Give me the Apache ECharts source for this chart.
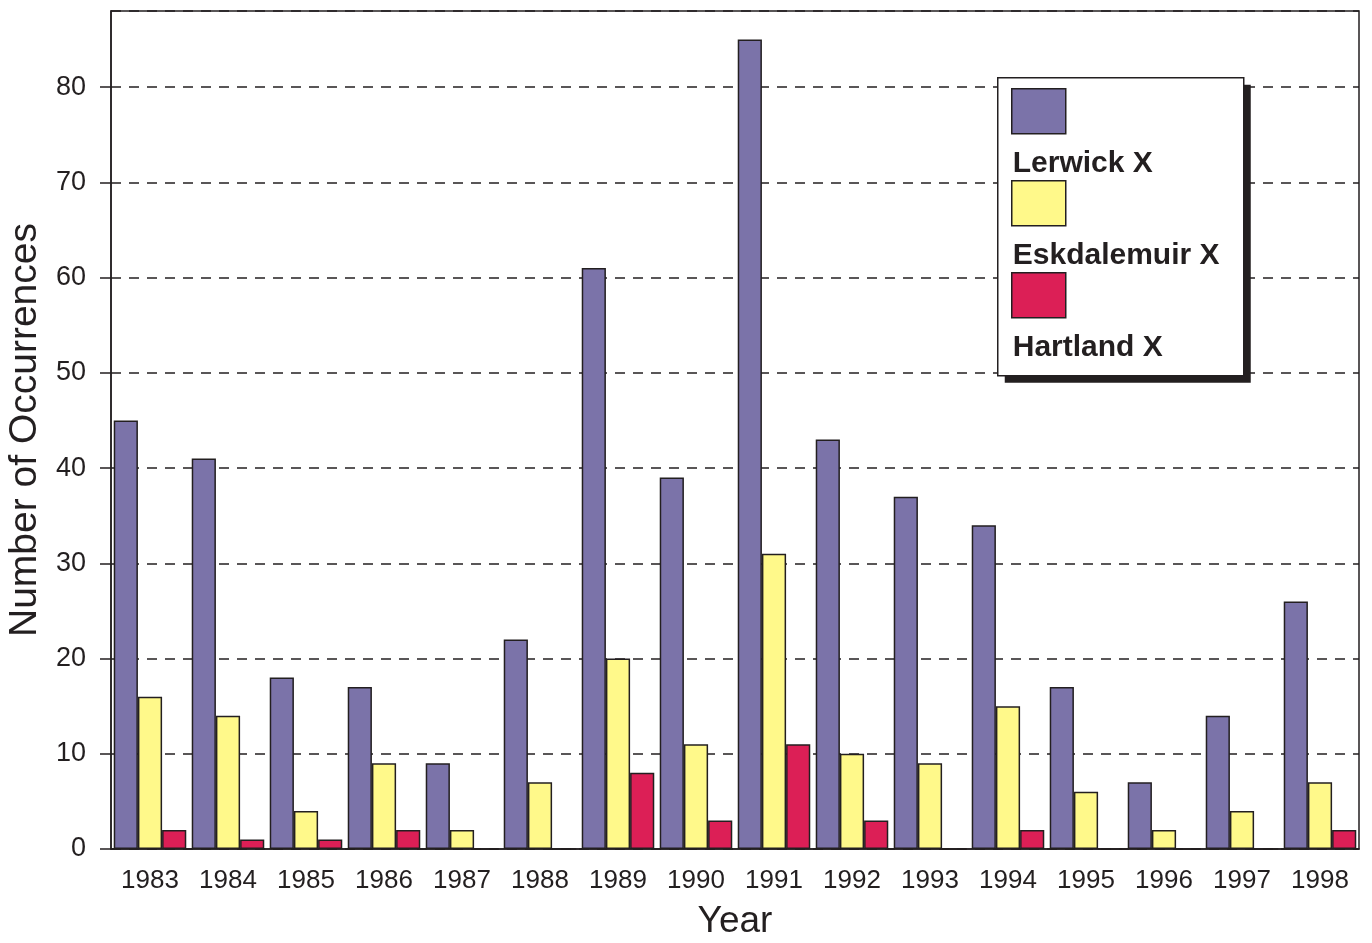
<!DOCTYPE html>
<html>
<head>
<meta charset="utf-8">
<script src="https://cdn.jsdelivr.net/npm/echarts@6/dist/echarts.min.js"></script>
<style>
  html, body { margin: 0; padding: 0; background: #fff; }
  #chart { width: 1372px; height: 943px; }
</style>
</head>
<body>
<div id="chart"></div>
<script>
const years = ['1983', '1984', '1985', '1986', '1987', '1988', '1989', '1990',
  '1991', '1992', '1993', '1994', '1995', '1996', '1997', '1998']
const lerwick = [45, 41, 18, 17, 9, 22, 61, 39, 85, 43, 37, 34, 17, 7, 14, 26]
const eskdalemuir = [16, 14, 4, 9, 2, 7, 20, 11, 31, 10, 9, 15, 6, 2, 4, 7]
const hartland = [2, 1, 1, 2, 0, 0, 8, 3, 11, 3, 0, 2, 0, 0, 0, 2]
const seriesNames = ['Lerwick X', 'Eskdalemuir X', 'Hartland X']
const colors = ['#7b73a9', '#fff98a', '#dc1f56']

const font = '"Liberation Sans", Arial, sans-serif'
const chart = echarts.init(document.getElementById('chart'))

const allData = [lerwick, eskdalemuir, hartland]
const series = allData.map((d, i) => ({
  name: seriesNames[i],
  type: 'bar',
  data: d,
  barGap: '0%',
  barCategoryGap: '7%',
  itemStyle: { color: colors[i], borderColor: '#231f20', borderWidth: 1.5 },
  emphasis: { disabled: true }
}))

// legend drawn as graphic: swatch with the label under it
const legendItems = []
seriesNames.forEach((name, i) => {
  legendItems.push({
    type: 'rect', z: 102, shape: { x: 14, y: 11 + i * 92, width: 54, height: 45 },
    style: { fill: colors[i], stroke: '#231f20', lineWidth: 1.5 }
  })
  legendItems.push({
    type: 'text', z: 102, x: 15, y: 86 + i * 92,
    style: { text: name, font: 'bold 30px ' + font, fill: '#231f20', verticalAlign: 'middle' }
  })
})

chart.setOption({
  animation: false,
  grid: {
    left: 111, right: 13, top: 11, bottom: 94,
    outerBoundsMode: 'none',
    show: true, borderColor: '#231f20', borderWidth: 1.5
  },
  xAxis: {
    type: 'category',
    data: years,
    name: 'Year',
    nameLocation: 'middle',
    nameGap: 54,
    nameTextStyle: { fontFamily: font, fontSize: 37, color: '#231f20' },
    axisLine: { lineStyle: { color: '#231f20', width: 1.5 } },
    axisTick: { length: 12, lineStyle: { color: '#231f20', width: 1.5 } },
    axisLabel: { fontFamily: font, fontSize: 26, color: '#231f20', margin: 19 }
  },
  yAxis: {
    type: 'value',
    min: 0, max: 88, interval: 10,
    name: 'Number of Occurrences',
    nameLocation: 'middle',
    nameGap: 64,
    nameTextStyle: { fontFamily: font, fontSize: 39, color: '#231f20' },
    axisLine: { show: true, lineStyle: { color: '#231f20', width: 1.5 } },
    axisTick: { show: true, length: 11, lineStyle: { color: '#231f20', width: 1.5 } },
    axisLabel: { fontFamily: font, fontSize: 27, color: '#231f20', margin: 25, showMaxLabel: false },
    splitLine: { lineStyle: { color: '#231f20', width: 1.5, type: [10, 8] } }
  },
  series: series,
  graphic: [{
    type: 'group', left: 997, top: 77, z: 100,
    children: [
      { type: 'rect', z: 100, shape: { x: 7, y: 7, width: 246, height: 298 }, style: { fill: '#231f20' } },
      { type: 'rect', z: 101, shape: { x: 0, y: 0, width: 246, height: 298 },
        style: { fill: '#fff', stroke: '#231f20', lineWidth: 1.5 } }
    ].concat(legendItems)
  }]
})
</script>
</body>
</html>
